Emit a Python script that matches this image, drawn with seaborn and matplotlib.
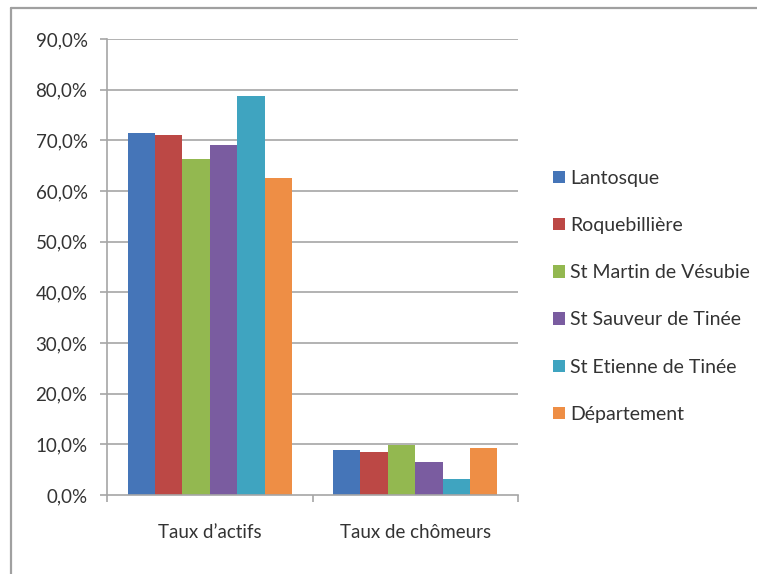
import matplotlib
matplotlib.use("Agg")
import matplotlib.pyplot as plt
from matplotlib.lines import Line2D
from matplotlib.ticker import FixedLocator, FuncFormatter
import seaborn as sns
import pandas as pd

categories = ["Taux d\u2019actifs", "Taux de chômeurs"]
communes = ["Lantosque", "Roquebillière", "St Martin de Vésubie",
            "St Sauveur de Tinée", "St Etienne de Tinée", "Département"]
taux_actifs = [0.715, 0.710, 0.663, 0.690, 0.788, 0.626]
taux_chomeurs = [0.089, 0.084, 0.099, 0.066, 0.032, 0.092]
colors = ["#4575B8", "#BC4845", "#93B850", "#7A5CA0", "#3FA4C0", "#EE8E45"]
y_ticks = [0.0, 0.1, 0.2, 0.3, 0.4, 0.5, 0.6, 0.7, 0.8, 0.9]

rows = []
for c, a, ch in zip(communes, taux_actifs, taux_chomeurs):
    rows.append({"cat": categories[0], "commune": c, "val": a})
    rows.append({"cat": categories[1], "commune": c, "val": ch})
df = pd.DataFrame(rows)

sns.set_theme(style="white")
plt.rcParams["font.family"] = ["Lato", "DejaVu Sans"]

W, H = 757, 574
fig = plt.figure(figsize=(W / 100, H / 100), dpi=100)
fig.patch.set_facecolor("white")

x0, x1, y0, y1 = 107, 518, 495, 39
ax = fig.add_axes([x0 / W, 1 - y0 / H, (x1 - x0) / W, (y0 - y1) / H])

sns.barplot(data=df, x="cat", y="val", hue="commune", order=categories,
            hue_order=communes, palette=colors, width=0.8, gap=0,
            saturation=1, ax=ax, legend=True, linewidth=0)

grid_c = "#A6A6A6"
txt_c = "#333333"
ax.set_ylim(0, 0.9)
ax.set_xlim(-0.5, 1.5)
ax.set_yticks(y_ticks)
ax.yaxis.set_major_formatter(FuncFormatter(lambda v, p: f"{v*100:.1f}%".replace(".", ",")))
for v in y_ticks[1:]:
    ax.axhline(v, color=grid_c, lw=1.2, zorder=0)
ax.set_axisbelow(True)

for s in ["top", "right"]:
    ax.spines[s].set_visible(False)
for s in ["left", "bottom"]:
    ax.spines[s].set_color(grid_c)
    ax.spines[s].set_linewidth(1.2)

ax.tick_params(axis="y", length=5, width=1.2, color=grid_c, pad=9,
               labelsize=13.5, labelcolor=txt_c, left=True)
ax.xaxis.set_minor_locator(FixedLocator([-0.5, 0.5, 1.5]))
ax.tick_params(axis="x", which="minor", length=5, width=1.2, color=grid_c,
               bottom=True)
ax.tick_params(axis="x", which="major", length=0, pad=21, labelsize=13.5,
               labelcolor=txt_c)
ax.set_xlabel("")
ax.set_ylabel("")

handles, labels = ax.get_legend_handles_labels()
ax.legend(handles, labels, loc="upper left", bbox_to_anchor=(553 / W, 1 - 170 / H),
          bbox_transform=fig.transFigure, frameon=False, fontsize=14,
          handlelength=0.6, handleheight=0.6, handletextpad=0.3,
          labelspacing=1.55, labelcolor=txt_c, borderaxespad=0, borderpad=0)

# outer chart frame (top and left edges)
fig.add_artist(Line2D([11 / W, 11 / W], [0, 1 - 8 / H], transform=fig.transFigure,
                      color="#A0A0A0", lw=1.6))
fig.add_artist(Line2D([11 / W, 1], [1 - 8 / H, 1 - 8 / H], transform=fig.transFigure,
                      color="#A0A0A0", lw=1.6))

fig.savefig("out.png", dpi=100, facecolor="white")
